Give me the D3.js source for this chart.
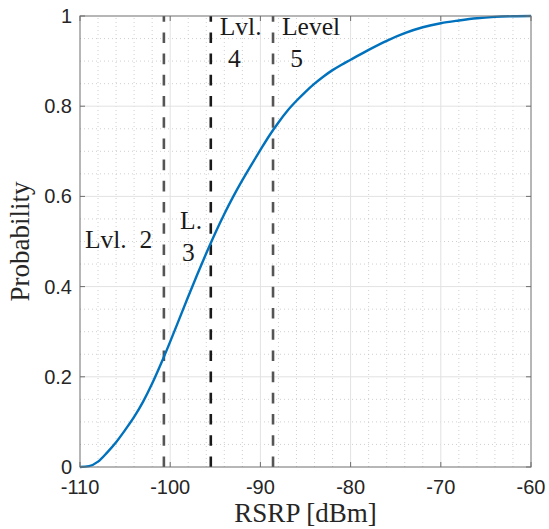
<!DOCTYPE html>
<html lang="en">
<head>
  <meta charset="UTF-8">
  <title>RSRP CDF</title>
  <style>
    body { margin: 0; background: #fff; }
    svg { display: block; }
  </style>
</head>
<body>
  <svg width="549" height="529"></svg>

  <script src="https://d3js.org/d3.v7.min.js"></script>
  <script>
    // CDF
    const rsrp = [-110, -109, -108, -107, -106, -105, -104, -103, -102, -101, -100, -99, -98, -97, -96, -95,
                  -94, -93, -92, -91, -90, -89, -88, -87, -86, -85, -84, -83, -82, -81, -80,
                  -78, -76, -74, -72, -70, -68, -66, -64, -62, -60];
    const prob = [0, 0.002, 0.012, 0.032, 0.055, 0.082, 0.111, 0.145, 0.185, 0.230, 0.278, 0.328, 0.378, 0.427, 0.474, 0.519,
                  0.561, 0.600, 0.636, 0.670, 0.703, 0.735, 0.764, 0.790, 0.812, 0.832, 0.850, 0.866, 0.880, 0.892, 0.903,
                  0.925, 0.945, 0.962, 0.975, 0.984, 0.990, 0.995, 0.998, 0.9995, 1.0];

    // level thresholds (dashed lines)
    const thresholds = [-100.7, -95.5, -88.6];
    const thresholdDark = [false, true, false];

    // annotation lines: text and anchor in data units
    const labelText = ["Lvl.  2", "L.", "3", "Lvl.", "4", "Level", "5"];
    const labelX = [-109.45, -98.9, -98.7, -94.5, -93.6, -87.6, -86.7];
    const labelY = [0.486, 0.528, 0.457, 0.957, 0.886, 0.957, 0.886];

    const xTicks = [-110, -100, -90, -80, -70, -60];
    const yTicks = [0, 0.2, 0.4, 0.6, 0.8, 1];

    const serif = "'Liberation Serif', 'Times New Roman', 'DejaVu Serif', serif";
    const sans = "'Liberation Sans', Arial, Helvetica, sans-serif";

    const margin = { left: 80, right: 18, top: 16, bottom: 62 };
    const width = 549, height = 529;
    const svg = d3.select("svg");

    const x = d3.scaleLinear().domain([-110, -60]).range([margin.left, width - margin.right]);
    const y = d3.scaleLinear().domain([0, 1]).range([height - margin.bottom, margin.top]);

    const x0 = x.range()[0], x1 = x.range()[1];
    const y0 = y.range()[0], y1 = y.range()[1];

    // minor grid
    const xMinor = d3.range(-108, -60, 2).filter(v => v % 10 !== 0);
    const yMinor = d3.range(0.05, 1, 0.05).filter(v => Math.abs(v * 5 - Math.round(v * 5)) > 1e-6);

    const grid = svg.append("g");
    grid.selectAll(".xminor").data(xMinor).join("line")
      .attr("x1", d => x(d)).attr("x2", d => x(d)).attr("y1", y0).attr("y2", y1)
      .attr("stroke", "#c4c4c4").attr("stroke-width", 0.8).attr("stroke-dasharray", "1,3");
    grid.selectAll(".yminor").data(yMinor).join("line")
      .attr("y1", d => y(d)).attr("y2", d => y(d)).attr("x1", x0).attr("x2", x1)
      .attr("stroke", "#c4c4c4").attr("stroke-width", 0.8).attr("stroke-dasharray", "1,3");

    // major grid
    grid.selectAll(".xmajor").data(xTicks.slice(1, -1)).join("line")
      .attr("x1", d => x(d)).attr("x2", d => x(d)).attr("y1", y0).attr("y2", y1)
      .attr("stroke", "#e2e2e2").attr("stroke-width", 1);
    grid.selectAll(".ymajor").data(yTicks.slice(1, -1)).join("line")
      .attr("y1", d => y(d)).attr("y2", d => y(d)).attr("x1", x0).attr("x2", x1)
      .attr("stroke", "#e2e2e2").attr("stroke-width", 1);

    // threshold lines
    svg.append("g").selectAll("line").data(thresholds).join("line")
      .attr("x1", d => x(d)).attr("x2", d => x(d))
      .attr("y1", y(0)).attr("y2", y(1))
      .attr("stroke", (d, i) => thresholdDark[i] ? "#1a1a1a" : "#555")
      .attr("stroke-width", 2.6)
      .attr("stroke-dasharray", "10.6,10.6");

    // CDF curve
    const line = d3.line()
      .x((d, i) => x(rsrp[i]))
      .y(d => y(d))
      .curve(d3.curveMonotoneX);

    svg.append("path")
      .datum(prob)
      .attr("fill", "none")
      .attr("stroke", "#0072BD")
      .attr("stroke-width", 2.4)
      .attr("stroke-linejoin", "round")
      .attr("d", line);

    // box and ticks
    svg.append("rect")
      .attr("x", x0).attr("y", y1).attr("width", x1 - x0).attr("height", y0 - y1)
      .attr("fill", "none").attr("stroke", "#6e6e6e").attr("stroke-width", 1);

    const tl = 5;
    const ticks = svg.append("g").attr("stroke", "#6e6e6e").attr("stroke-width", 1);
    xTicks.forEach(v => {
      ticks.append("line").attr("x1", x(v)).attr("x2", x(v)).attr("y1", y0).attr("y2", y0 - tl);
      ticks.append("line").attr("x1", x(v)).attr("x2", x(v)).attr("y1", y1).attr("y2", y1 + tl);
    });
    yTicks.forEach(v => {
      ticks.append("line").attr("y1", y(v)).attr("y2", y(v)).attr("x1", x0).attr("x2", x0 + tl);
      ticks.append("line").attr("y1", y(v)).attr("y2", y(v)).attr("x1", x1).attr("x2", x1 - tl);
    });

    // tick labels
    svg.append("g").selectAll("text").data(xTicks).join("text")
      .style("font-family", sans).style("font-size", "20px").attr("fill", "#262626")
      .attr("x", d => x(d)).attr("y", y0 + 27)
      .attr("text-anchor", "middle")
      .text(d => String(d));

    svg.append("g").selectAll("text").data(yTicks).join("text")
      .style("font-family", sans).style("font-size", "20px").attr("fill", "#262626")
      .attr("x", x0 - 8).attr("y", d => y(d) + 7)
      .attr("text-anchor", "end")
      .text(d => d === 0 || d === 1 ? String(d) : d.toFixed(1));

    // axis titles
    svg.append("text")
      .style("font-family", serif).style("font-size", "27px").attr("fill", "#262626")
      .attr("x", (x0 + x1) / 2).attr("y", 522)
      .attr("text-anchor", "middle")
      .text("RSRP [dBm]");

    svg.append("text")
      .style("font-family", serif).style("font-size", "27px").attr("fill", "#262626")
      .attr("transform", `translate(29,${(y0 + y1) / 2}) rotate(-90)`)
      .attr("text-anchor", "middle")
      .text("Probability");

    // level annotations
    svg.append("g").selectAll("text").data(labelText).join("text")
      .style("font-family", serif).style("font-size", "25.5px").attr("fill", "#1a1a1a")
      .style("white-space", "pre")
      .attr("x", (d, i) => x(labelX[i]))
      .attr("y", (d, i) => y(labelY[i]))
      .text(d => d);
  </script>
</body>
</html>
